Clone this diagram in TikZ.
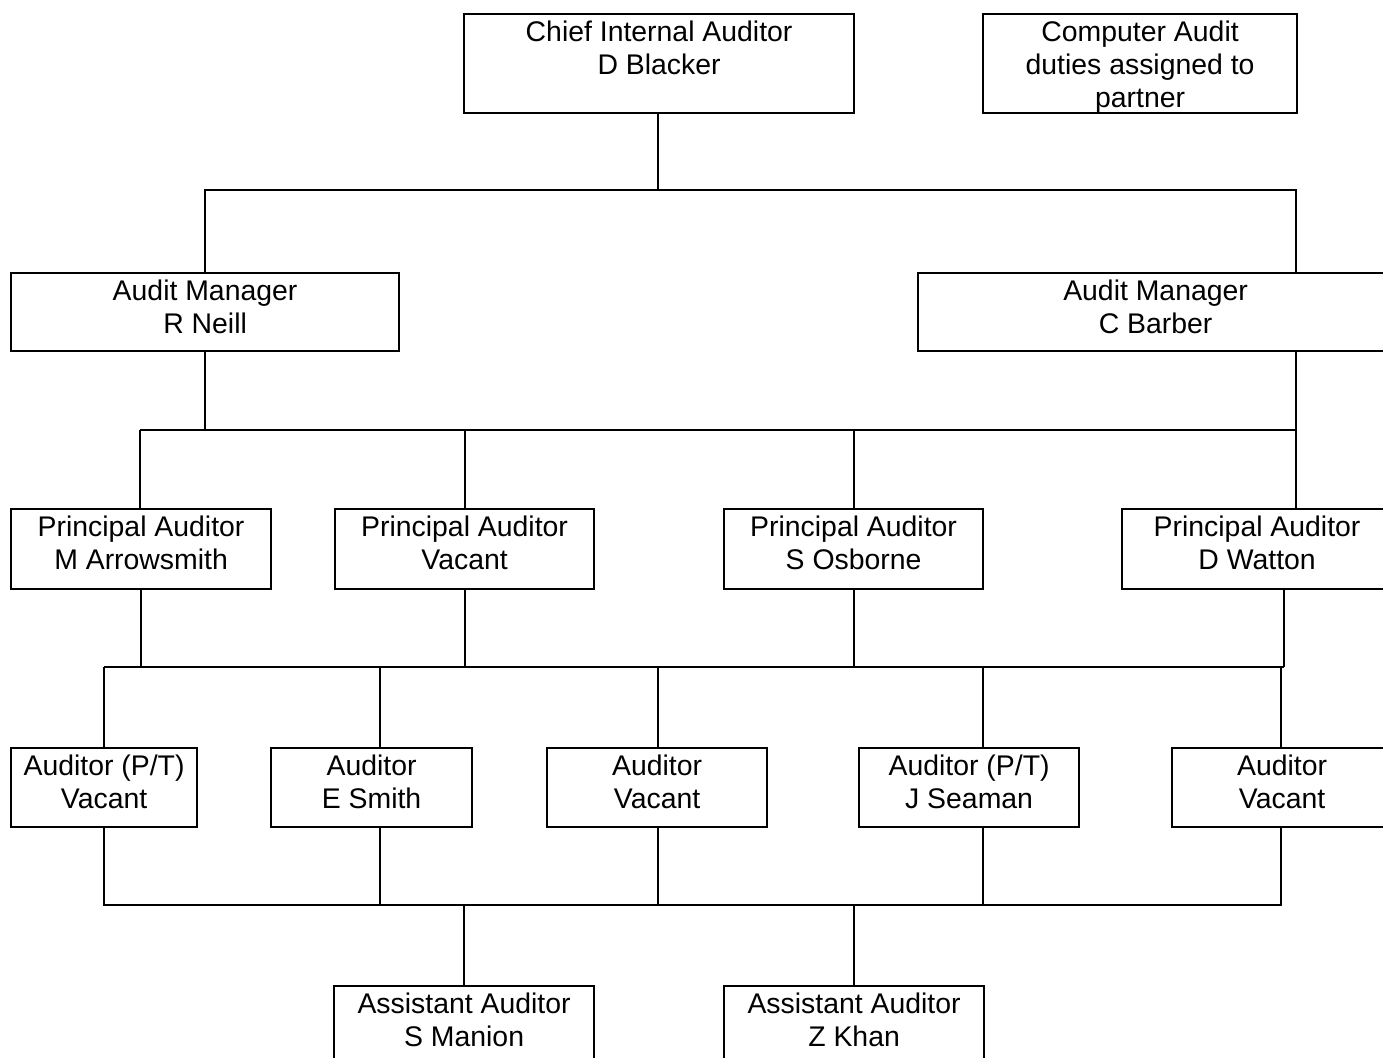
\documentclass[tikz,border=0pt]{standalone}
\usepackage{fontspec}
\setmainfont{Liberation Sans}
\newcommand{\firstln}{\rule{0pt}{14.25pt}}
\begin{document}
\begin{tikzpicture}[x=0.5pt,y=-0.5pt,
  box/.style={draw, line width=1.1pt, rectangle, inner sep=0pt, anchor=north west},
  lbl/.style={anchor=north, align=center, inner sep=0pt, font=\fontsize{14.2pt}{16.5pt}\selectfont},
  conn/.style={line width=0.9pt},
  thin/.style={line width=0.55pt}]
\useasboundingbox (0,0) rectangle (1383,1057);
% boxes
\node[box, minimum width=195pt, minimum height=49.5pt] (chief) at (463,13) {};
\node[box, minimum width=157pt, minimum height=49.5pt] (comp) at (982,13) {};
\node[box, minimum width=194pt, minimum height=39pt] (neill) at (10,272) {};
\node[box, minimum width=237.5pt, minimum height=39pt] (barber) at (917,272) {};
\node[box, minimum width=130pt, minimum height=40pt] (p1) at (10,508) {};
\node[box, minimum width=129.5pt, minimum height=40pt] (p2) at (334,508) {};
\node[box, minimum width=129.5pt, minimum height=40pt] (p3) at (723,508) {};
\node[box, minimum width=135pt, minimum height=40pt] (p4) at (1121,508) {};
\node[box, minimum width=93pt, minimum height=39.5pt] (a1) at (10,747) {};
\node[box, minimum width=100.5pt, minimum height=39.5pt] (a2) at (270,747) {};
\node[box, minimum width=110pt, minimum height=39.5pt] (a3) at (546,747) {};
\node[box, minimum width=110pt, minimum height=39.5pt] (a4) at (858,747) {};
\node[box, minimum width=110pt, minimum height=39.5pt] (a5) at (1171,747) {};
\node[box, minimum width=130pt, minimum height=42pt] (s1) at (333,985) {};
\node[box, minimum width=130pt, minimum height=42pt] (s2) at (723,985) {};
% texts
\node[lbl] (chiefT) at (chief.north) {\firstln Chief Internal Auditor\\D Blacker};
\node[lbl] (compT) at (comp.north) {\firstln Computer Audit\\duties assigned to\\partner};
\node[lbl] (neillT) at (neill.north) {\firstln Audit Manager\\R Neill};
\node[lbl] (barberT) at (barber.north) {\firstln Audit Manager\\C Barber};
\node[lbl] (p1T) at (p1.north) {\firstln Principal Auditor\\M Arrowsmith};
\node[lbl] (p2T) at (p2.north) {\firstln Principal Auditor\\Vacant};
\node[lbl] (p3T) at (p3.north) {\firstln Principal Auditor\\S Osborne};
\node[lbl] (p4T) at (p4.north) {\firstln Principal Auditor\\D Watton};
\node[lbl] (a1T) at (a1.north) {\firstln Auditor (P/T)\\Vacant};
\node[lbl] (a2T) at (a2.north) {\firstln Auditor\\E Smith};
\node[lbl] (a3T) at (a3.north) {\firstln Auditor\\Vacant};
\node[lbl] (a4T) at (a4.north) {\firstln Auditor (P/T)\\J Seaman};
\node[lbl] (a5T) at (a5.north) {\firstln Auditor\\Vacant};
\node[lbl] (s1T) at (s1.north) {\firstln Assistant Auditor\\S Manion};
\node[lbl] (s2T) at (s2.north) {\firstln Assistant Auditor\\Z Khan};
% bus coordinates
\coordinate (b1) at (658,190);
\coordinate (b1r) at (1296,190);
\coordinate (b2l) at (140,430);
\coordinate (b2r) at (1296,430);
\coordinate (b3l) at (104,667);
\coordinate (b3r) at (1284,667);
\coordinate (u2) at (380,667);
\coordinate (u3) at (658,667);
\coordinate (u4) at (983,667);
\coordinate (u5) at (1281,667);
\coordinate (b4l) at (104,905);
\coordinate (b4r) at (1281,905);
% connectors
\draw[thin] (b1 |- chief.south) -- (b1);
\draw[conn] (neill.north) |- (b1) -- (b1r) -- (b1r |- barber.north);
\draw[conn] (neill.south) -- (neill.south |- b2l);
\draw[conn] (b2l) -- (b2r);
\draw[conn] (b2l) -- (b2l |- p1.north);
\draw[conn] (p2.north |- b2l) -- (p2.north);
\draw[conn] (p3.north |- b2l) -- (p3.north);
\draw[conn] (b1r |- barber.south) -- (b2r) -- (b2r |- p4.north);
\draw[conn] (p1.south) -- (p1.south |- b3l);
\draw[conn] (p2.south) -- (p2.south |- b3l);
\draw[conn] (p3.south) -- (p3.south |- b3l);
\draw[conn] (b3r |- p4.south) -- (b3r);
\draw[conn] (b3l) -- (b3r);
\draw[conn] (b3l) -- (b3l |- a1.north);
\draw[conn] (u2) -- (u2 |- a2.north);
\draw[thin] (u3) -- (u3 |- a3.north);
\draw[conn] (u4) -- (u4 |- a4.north);
\draw[conn] (u5) -- (u5 |- a5.north);
\draw[conn] (b4l |- a1.south) -- (b4l) -- (b4r) -- (b4r |- a5.south);
\draw[conn] (u2 |- a2.south) -- (u2 |- b4l);
\draw[thin] (u3 |- a3.south) -- (u3 |- b4l);
\draw[conn] (u4 |- a4.south) -- (u4 |- b4l);
\draw[conn] (s1.north |- b4l) -- (s1.north);
\draw[conn] (s2.north |- b4l) -- (s2.north);
\end{tikzpicture}
\end{document}
